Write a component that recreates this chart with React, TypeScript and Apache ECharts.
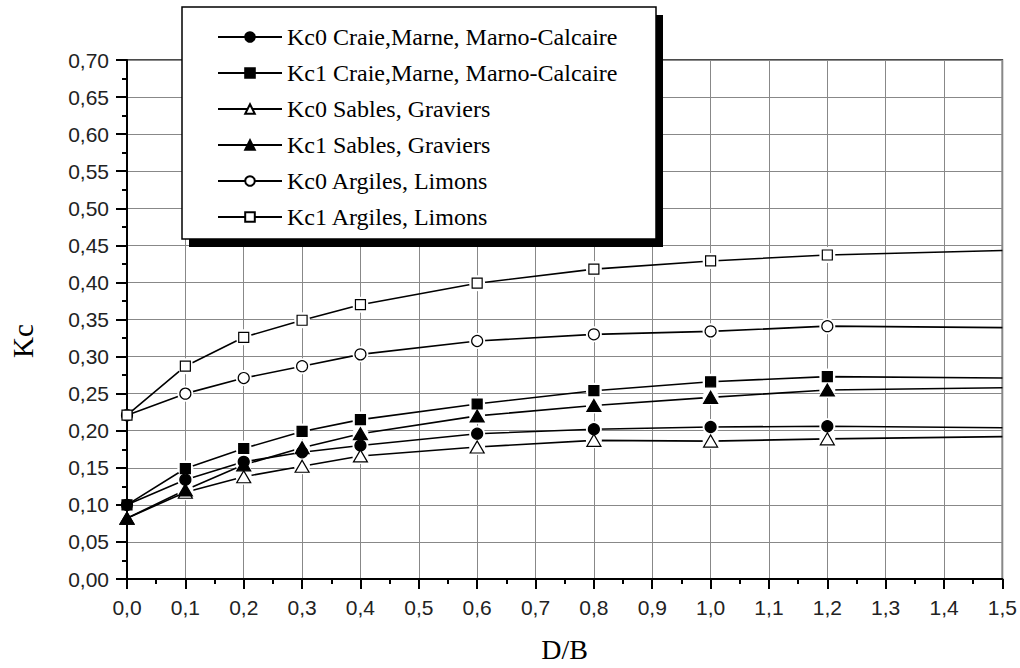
import React, { useEffect, useRef } from "react";
import * as echarts from "echarts";

// D/B positions (last point = end of curve, drawn without marker)
const xValues = [0, 0.1, 0.2, 0.3, 0.4, 0.6, 0.8, 1.0, 1.2, 1.5];

const seriesNames = [
  "Kc0 Craie,Marne, Marno-Calcaire",
  "Kc1 Craie,Marne, Marno-Calcaire",
  "Kc0 Sables, Graviers",
  "Kc1 Sables, Graviers",
  "Kc0 Argiles, Limons",
  "Kc1 Argiles, Limons",
];

const kc0Craie = [0.100, 0.134, 0.158, 0.171, 0.180, 0.196, 0.202, 0.205, 0.206, 0.204];
const kc1Craie = [0.100, 0.149, 0.176, 0.199, 0.215, 0.236, 0.254, 0.266, 0.273, 0.271];
const kc0Sables = [0.082, 0.117, 0.138, 0.152, 0.166, 0.178, 0.187, 0.186, 0.189, 0.192];
const kc1Sables = [0.082, 0.120, 0.154, 0.177, 0.196, 0.220, 0.234, 0.245, 0.255, 0.258];
const kc0Argiles = [0.221, 0.250, 0.271, 0.287, 0.303, 0.321, 0.330, 0.334, 0.341, 0.339];
const kc1Argiles = [0.221, 0.287, 0.326, 0.349, 0.370, 0.399, 0.418, 0.429, 0.437, 0.443];

const seriesValues = [kc0Craie, kc1Craie, kc0Sables, kc1Sables, kc0Argiles, kc1Argiles];

const markerStyles = [
  { symbol: "circle", size: 11, fill: "#000" },
  { symbol: "rect", size: 10, fill: "#000" },
  { symbol: "triangle", size: [14, 12], fill: "#fff" },
  { symbol: "triangle", size: [14, 12], fill: "#000" },
  { symbol: "circle", size: 11, fill: "#fff" },
  { symbol: "rect", size: 10, fill: "#fff" },
];

const fmtY = (v: number) => v.toFixed(2).replace(".", ",");
const fmtX = (v: number) => v.toFixed(1).replace(".", ",");

const SERIF = "Liberation Serif";
const SANS = "Liberation Sans";

export default function App() {
  const ref = useRef<HTMLDivElement>(null);

  useEffect(() => {
    if (!ref.current) return;
    const chart = echarts.init(ref.current, undefined, { renderer: "svg" });

    const series: any[] = [];
    seriesValues.forEach((vals, si) => {
      const m = markerStyles[si];
      series.push({
        name: seriesNames[si],
        type: "line",
        data: xValues.map((x, i) => [x, vals[i]]),
        showSymbol: false,
        symbol: m.symbol,
        symbolSize: m.size,
        lineStyle: { color: "#000", width: 1.6 },
        itemStyle: { color: m.fill, borderColor: "#000", borderWidth: 1.2, opacity: 1 },
        z: 2,
      });
      // white halo to break the line around each marker
      series.push({
        type: "scatter",
        silent: true,
        data: xValues
          .map((x, i) => [x, vals[i]])
          .filter((p, i) => i > 0 && i < xValues.length - 1),
        symbol: "circle",
        symbolSize: 16,
        itemStyle: { color: "#fff", borderWidth: 0, opacity: 1 },
        z: 3,
      });
      series.push({
        type: "scatter",
        silent: true,
        data: xValues.map((x, i) => [x, vals[i]]).filter((p, i) => i < xValues.length - 1),
        symbol: m.symbol,
        symbolSize: m.size,
        itemStyle: { color: m.fill, borderColor: "#000", borderWidth: 1.2, opacity: 1 },
        z: 4,
      });
    });

    chart.setOption({
      animation: false,
      backgroundColor: "#fff",
      textStyle: { fontFamily: SERIF },
      grid: {
        left: 127,
        right: 17,
        top: 60,
        bottom: 85,
        show: true,
        borderColor: "#111",
        borderWidth: 1.5,
        backgroundColor: "transparent",
      },
      xAxis: {
        type: "value",
        min: 0,
        max: 1.5,
        interval: 0.1,
        name: "D/B",
        nameLocation: "middle",
        nameGap: 56,
        nameTextStyle: { fontFamily: SERIF, fontSize: 28, color: "#000" },
        axisLine: { show: true, onZero: false, lineStyle: { color: "#000", width: 2 } },
        axisTick: { show: true, length: 10, lineStyle: { color: "#000", width: 2 } },
        minorTick: { show: true, splitNumber: 2, length: 5, lineStyle: { color: "#000", width: 2 } },
        splitLine: { show: true, lineStyle: { color: "#888", width: 1 } },
        axisLabel: { formatter: fmtX, fontFamily: SANS, fontSize: 21, color: "#222", margin: 18 },
      },
      yAxis: {
        type: "value",
        min: 0,
        max: 0.7,
        interval: 0.05,
        axisLine: { show: true, onZero: false, lineStyle: { color: "#000", width: 2 } },
        axisTick: { show: true, length: 11, lineStyle: { color: "#000", width: 2 } },
        minorTick: { show: true, splitNumber: 2, length: 5, lineStyle: { color: "#000", width: 2 } },
        splitLine: { show: true, lineStyle: { color: "#888", width: 1 } },
        axisLabel: { formatter: fmtY, fontFamily: SANS, fontSize: 21, color: "#222", margin: 18 },
      },
      graphic: [
        {
          type: "text",
          x: 23,
          y: 341,
          rotation: Math.PI / 2,
          z: 10,
          style: {
            text: "Kc",
            fontFamily: SERIF,
            fontSize: 29,
            fill: "#000",
            align: "center",
            verticalAlign: "middle",
          },
        },
        { type: "rect", z: 10, shape: { x: 189, y: 15, width: 474, height: 232 }, style: { fill: "#000" } },
        {
          type: "rect",
          z: 11,
          shape: { x: 182, y: 7, width: 474, height: 232 },
          style: { fill: "#fff", stroke: "#000", lineWidth: 1.5 },
        },
      ],
      legend: {
        data: seriesNames,
        orient: "vertical",
        left: 217,
        top: 25,
        padding: 0,
        itemWidth: 64,
        itemHeight: 12,
        itemGap: 12,
        itemTextGap: 6,
        z: 20,
        selectedMode: false,
        textStyle: { fontFamily: SERIF, fontSize: 24, lineHeight: 24, color: "#000" },
      },
      series,
    });

    return () => chart.dispose();
  }, []);

  return (
    <div
      ref={ref}
      style={{ position: "fixed", left: 0, top: 0, width: 1020, height: 668, background: "#fff" }}
    />
  );
}
